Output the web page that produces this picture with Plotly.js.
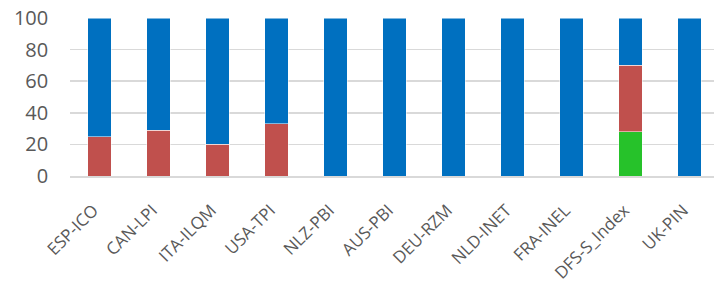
<!DOCTYPE html>
<html><head><meta charset="utf-8">
<script src="https://cdn.plot.ly/plotly-3.0.1.min.js"></script>
<style>html,body{margin:0;padding:0;overflow:hidden;background:#fff}</style>
</head><body><div id="chart"></div>
<script>
const categories = ["ESP-ICO","CAN-LPI","ITA-ILQM","USA-TPI","NLZ-PBI","AUS-PBI","DEU-RZM","NLD-INET","FRA-INEL","DFS-S_Index","UK-PIN"];
const greenVals = [0,0,0,0,0,0,0,0,0,28,0];
const redVals   = [25,29,20,33,0,0,0,0,0,42,0];
const blueVals  = [75,71,80,67,100,100,100,100,100,30,100];

const mk = (y, color) => ({
  type:'bar', x:categories, y:y, width:0.4,
  marker:{color:color, line:{color:'rgba(255,255,255,0.5)', width:1}},
  hoverinfo:'none'
});
const data = [mk(greenVals,'#26C22A'), mk(redVals,'#C0504D'), mk(blueVals,'#0070C0')];
const layout = {
  width:719, height:291, barmode:'stack', showlegend:false,
  margin:{l:70, r:0, t:18, b:115},
  paper_bgcolor:'#fff', plot_bgcolor:'#fff',
  font:{family:'"Open Sans", "Liberation Sans", sans-serif', color:'#595959'},
  yaxis:{range:[0,100], dtick:20, showgrid:true, gridcolor:'#D9D9D9', gridwidth:1.5,
         zeroline:false, showline:false, ticks:'', ticksuffix:'\u00a0\u00a0\u00a0\u00a0',
         tickfont:{size:20, color:'#595959'}, automargin:false},
  xaxis:{type:'category', tickangle:-45, showline:true, linecolor:'#D9D9D9', linewidth:1.5,
         ticks:'', ticksuffix:'\u00a0\u00a0', tickfont:{size:17, color:'#595959'}, ticklabelstandoff:10, automargin:false}
};
Plotly.newPlot('chart', data, layout, {staticPlot:true, displayModeBar:false});
</script></body></html>
